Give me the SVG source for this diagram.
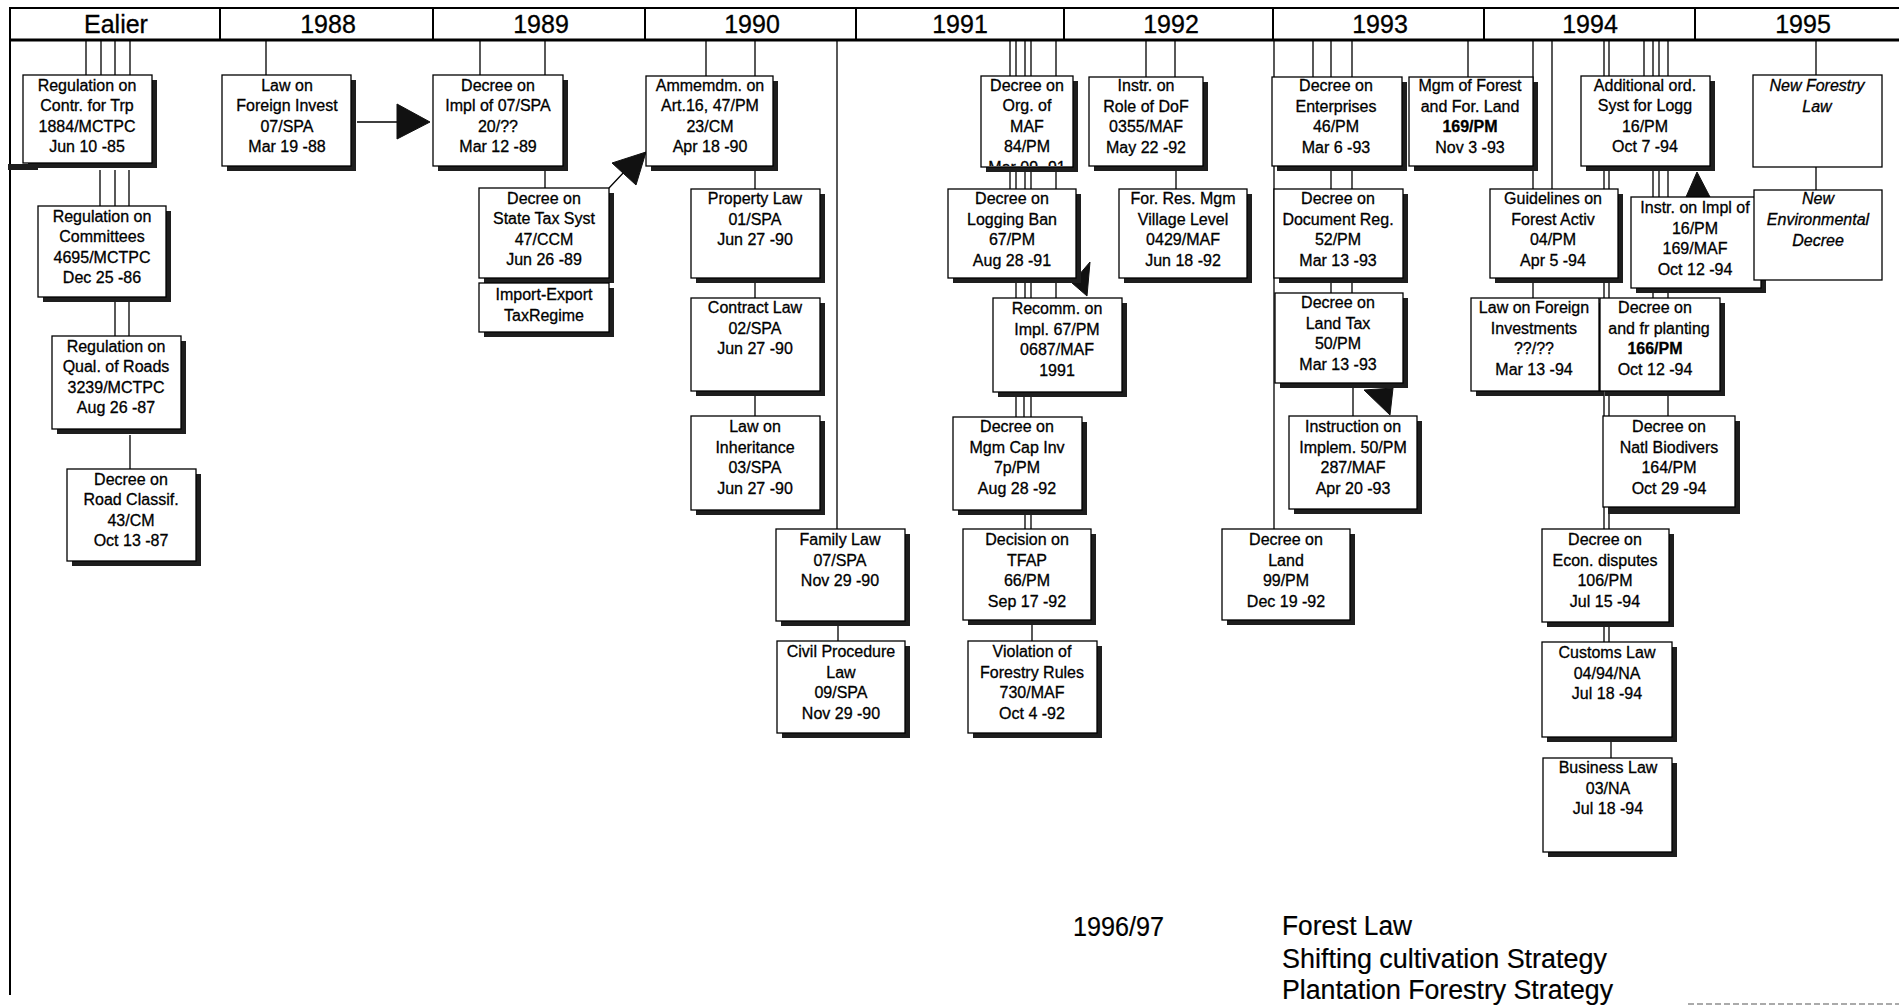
<svg xmlns="http://www.w3.org/2000/svg" width="1899" height="1006" viewBox="0 0 1899 1006">
<defs>
<style>
.bx{fill:#fff;stroke:#000;stroke-width:1.3}
.sh{fill:#1e1e1e}
.t{font-family:"Liberation Sans",Arial,sans-serif;font-size:16px;text-anchor:middle;fill:#000;stroke:#000;stroke-width:0.3}
.it{font-style:italic}
.b{font-weight:bold}
.c{stroke:#000;stroke-width:1.3;fill:none}
.ah{fill:#111;stroke:#111;stroke-width:1}
.hd{font-family:"Liberation Sans",Arial,sans-serif;font-size:25px;text-anchor:middle;fill:#000;stroke:#000;stroke-width:0.3}
.bt{font-family:"Liberation Sans",Arial,sans-serif;font-size:27px;fill:#000;stroke:#000;stroke-width:0.2}
</style>
<clipPath id="clip15"><rect x="982" y="77" width="90" height="89"/></clipPath>
</defs>
<rect width="1899" height="1006" fill="#fff"/>

<g id="header">
<rect x="10" y="8" width="1895" height="32" fill="#fff" stroke="#000" stroke-width="2"/>
<line x1="10" y1="40" x2="1899" y2="40" stroke="#000" stroke-width="3"/>
<g stroke="#000" stroke-width="2">
<line x1="220" y1="8" x2="220" y2="40"/><line x1="433" y1="8" x2="433" y2="40"/><line x1="645" y1="8" x2="645" y2="40"/><line x1="856" y1="8" x2="856" y2="40"/><line x1="1064" y1="8" x2="1064" y2="40"/><line x1="1273" y1="8" x2="1273" y2="40"/><line x1="1484" y1="8" x2="1484" y2="40"/><line x1="1695" y1="8" x2="1695" y2="40"/>
</g>
<text class="hd" x="116" y="33">Ealier</text>
<text class="hd" x="328" y="33">1988</text>
<text class="hd" x="541" y="33">1989</text>
<text class="hd" x="752" y="33">1990</text>
<text class="hd" x="960" y="33">1991</text>
<text class="hd" x="1171" y="33">1992</text>
<text class="hd" x="1380" y="33">1993</text>
<text class="hd" x="1590" y="33">1994</text>
<text class="hd" x="1803" y="33">1995</text>
<line x1="10" y1="40" x2="10" y2="995" stroke="#000" stroke-width="2"/>
<rect x="8" y="164" width="30" height="6" fill="#1e1e1e"/>
</g>

<g id="connectors">
<path class="c" d="M86 40V75M101 40V75M115 40V75M130 40V75M100 170V206M115 170V206M129 170V206M115 302V336M129 302V336M130 435V469"/>
<path class="c" d="M266 40V75M357 122H399"/>
<polygon class="ah" points="397,104 430,122 397,139"/>
<path class="c" d="M480 40V75M545 40V75M545 171V188M609 188L625 171"/>
<polygon class="ah" points="612,163 646,152 636,185"/>
<path class="c" d="M706 40V76M755 40V76M755 171V189M755 283V298M755 396V416M837 40V529M838 626V641"/>
<path class="c" d="M1010 40V76M1016 40V76M1025 40V76M1031 40V76M1056 40V76M1010 172V189M1016 172V189M1025 172V189M1031 172V189M1056 172V189M1016 283V298M1025 283V298M1031 283V298M1056 283V298M1016 397V417M1024 397V417M1031 397V417M1025 515V529M1031 515V529M1032 625V641"/>
<polygon class="ah" points="1072,283 1090,262 1087,296"/>
<path class="c" d="M1146 40V77M1175 40V77M1176 171V189"/>
<path class="c" d="M1274 40V529M1313 40V77M1331 40V77M1352 40V77M1468 40V77M1331 171V189M1352 171V189M1331 283V293M1352 283V293M1353 388V416"/>
<polygon class="ah" points="1364,390 1393,388 1390,415"/>
<path class="c" d="M1533 40V189M1552 40V189M1533 283V298M1604 40V642M1609 40V642M1644 40V76M1653 40V298M1659 40V197M1668 40V416M1611 742V758"/>
<polygon class="ah" points="1697,172 1686,197 1710,197"/>
<path class="c" d="M1816 40V75M1816 167V190"/>
</g>

<g id="n1"><rect class="sh" x="28" y="80" width="129" height="88"/><rect class="bx" x="23" y="75" width="129" height="88"/><text class="t" x="87" y="90.5"><tspan x="87">Regulation on</tspan><tspan x="87" dy="20.6">Contr. for Trp</tspan><tspan x="87" dy="20.6">1884/MCTPC</tspan><tspan x="87" dy="20.6">Jun 10 -85</tspan></text></g>
<g id="n2"><rect class="sh" x="43" y="211" width="128" height="91"/><rect class="bx" x="38" y="206" width="128" height="91"/><text class="t" x="102" y="221.5"><tspan x="102">Regulation on</tspan><tspan x="102" dy="20.6">Committees</tspan><tspan x="102" dy="20.6">4695/MCTPC</tspan><tspan x="102" dy="20.6">Dec 25 -86</tspan></text></g>
<g id="n3"><rect class="sh" x="57" y="341" width="129" height="93"/><rect class="bx" x="52" y="336" width="129" height="93"/><text class="t" x="116" y="351.5"><tspan x="116">Regulation on</tspan><tspan x="116" dy="20.6">Qual. of Roads</tspan><tspan x="116" dy="20.6">3239/MCTPC</tspan><tspan x="116" dy="20.6">Aug 26 -87</tspan></text></g>
<g id="n4"><rect class="sh" x="72" y="474" width="129" height="92"/><rect class="bx" x="67" y="469" width="129" height="92"/><text class="t" x="131" y="484.5"><tspan x="131">Decree on</tspan><tspan x="131" dy="20.6">Road Classif.</tspan><tspan x="131" dy="20.6">43/CM</tspan><tspan x="131" dy="20.6">Oct 13 -87</tspan></text></g>
<g id="n5"><rect class="sh" x="227" y="80" width="129" height="91"/><rect class="bx" x="222" y="75" width="129" height="91"/><text class="t" x="287" y="90.5"><tspan x="287">Law on</tspan><tspan x="287" dy="20.6">Foreign Invest</tspan><tspan x="287" dy="20.6">07/SPA</tspan><tspan x="287" dy="20.6">Mar 19 -88</tspan></text></g>
<g id="n6"><rect class="sh" x="438" y="80" width="130" height="91"/><rect class="bx" x="433" y="75" width="130" height="91"/><text class="t" x="498" y="90.5"><tspan x="498">Decree on</tspan><tspan x="498" dy="20.6">Impl of 07/SPA</tspan><tspan x="498" dy="20.6">20/??</tspan><tspan x="498" dy="20.6">Mar 12 -89</tspan></text></g>
<g id="n7"><rect class="sh" x="484" y="193" width="130" height="90"/><rect class="bx" x="479" y="188" width="130" height="90"/><text class="t" x="544" y="203.5"><tspan x="544">Decree on</tspan><tspan x="544" dy="20.6">State Tax Syst</tspan><tspan x="544" dy="20.6">47/CCM</tspan><tspan x="544" dy="20.6">Jun 26 -89</tspan></text></g>
<g id="n8"><rect class="sh" x="484" y="288" width="130" height="49"/><rect class="bx" x="479" y="283" width="130" height="49"/><text class="t" x="544" y="300"><tspan x="544">Import-Export</tspan><tspan x="544" dy="20.6">TaxRegime</tspan></text></g>
<g id="n9"><rect class="sh" x="651" y="81" width="127" height="90"/><rect class="bx" x="646" y="76" width="127" height="90"/><text class="t" x="710" y="90.5"><tspan x="710">Ammemdm. on</tspan><tspan x="710" dy="20.6">Art.16, 47/PM</tspan><tspan x="710" dy="20.6">23/CM</tspan><tspan x="710" dy="20.6">Apr 18 -90</tspan></text></g>
<g id="n10"><rect class="sh" x="696" y="194" width="129" height="89"/><rect class="bx" x="691" y="189" width="129" height="89"/><text class="t" x="755" y="204"><tspan x="755">Property Law</tspan><tspan x="755" dy="20.6">01/SPA</tspan><tspan x="755" dy="20.6">Jun 27 -90</tspan></text></g>
<g id="n11"><rect class="sh" x="696" y="303" width="129" height="93"/><rect class="bx" x="691" y="298" width="129" height="93"/><text class="t" x="755" y="313"><tspan x="755">Contract Law</tspan><tspan x="755" dy="20.6">02/SPA</tspan><tspan x="755" dy="20.6">Jun 27 -90</tspan></text></g>
<g id="n12"><rect class="sh" x="696" y="421" width="129" height="94"/><rect class="bx" x="691" y="416" width="129" height="94"/><text class="t" x="755" y="432"><tspan x="755">Law on</tspan><tspan x="755" dy="20.6">Inheritance</tspan><tspan x="755" dy="20.6">03/SPA</tspan><tspan x="755" dy="20.6">Jun 27 -90</tspan></text></g>
<g id="n13"><rect class="sh" x="781" y="534" width="129" height="92"/><rect class="bx" x="776" y="529" width="129" height="92"/><text class="t" x="840" y="545"><tspan x="840">Family Law</tspan><tspan x="840" dy="20.6">07/SPA</tspan><tspan x="840" dy="20.6">Nov 29 -90</tspan></text></g>
<g id="n14"><rect class="sh" x="782" y="646" width="128" height="92"/><rect class="bx" x="777" y="641" width="128" height="92"/><text class="t" x="841" y="657"><tspan x="841">Civil Procedure</tspan><tspan x="841" dy="20.6">Law</tspan><tspan x="841" dy="20.6">09/SPA</tspan><tspan x="841" dy="20.6">Nov 29 -90</tspan></text></g>
<g id="n15"><rect class="sh" x="986" y="81" width="92" height="91"/><rect class="bx" x="981" y="76" width="92" height="91"/><text class="t" x="1027" y="90.5" clip-path="url(#clip15)"><tspan x="1027">Decree on</tspan><tspan x="1027" dy="20.6">Org. of</tspan><tspan x="1027" dy="20.6">MAF</tspan><tspan x="1027" dy="20.6">84/PM</tspan><tspan x="1027" dy="20.6">Mar 09 -91</tspan></text></g>
<g id="n16"><rect class="sh" x="953" y="194" width="128" height="89"/><rect class="bx" x="948" y="189" width="128" height="89"/><text class="t" x="1012" y="204"><tspan x="1012">Decree on</tspan><tspan x="1012" dy="20.6">Logging Ban</tspan><tspan x="1012" dy="20.6">67/PM</tspan><tspan x="1012" dy="20.6">Aug 28 -91</tspan></text></g>
<g id="n17"><rect class="sh" x="998" y="303" width="129" height="94"/><rect class="bx" x="993" y="298" width="129" height="94"/><text class="t" x="1057" y="314"><tspan x="1057">Recomm. on</tspan><tspan x="1057" dy="20.6">Impl. 67/PM</tspan><tspan x="1057" dy="20.6">0687/MAF</tspan><tspan x="1057" dy="20.6">1991</tspan></text></g>
<g id="n18"><rect class="sh" x="958" y="422" width="129" height="93"/><rect class="bx" x="953" y="417" width="129" height="93"/><text class="t" x="1017" y="432"><tspan x="1017">Decree on</tspan><tspan x="1017" dy="20.6">Mgm Cap Inv</tspan><tspan x="1017" dy="20.6">7p/PM</tspan><tspan x="1017" dy="20.6">Aug 28 -92</tspan></text></g>
<g id="n19"><rect class="sh" x="968" y="534" width="128" height="91"/><rect class="bx" x="963" y="529" width="128" height="91"/><text class="t" x="1027" y="545"><tspan x="1027">Decision on</tspan><tspan x="1027" dy="20.6">TFAP</tspan><tspan x="1027" dy="20.6">66/PM</tspan><tspan x="1027" dy="20.6">Sep 17 -92</tspan></text></g>
<g id="n20"><rect class="sh" x="973" y="646" width="129" height="92"/><rect class="bx" x="968" y="641" width="129" height="92"/><text class="t" x="1032" y="657"><tspan x="1032">Violation of</tspan><tspan x="1032" dy="20.6">Forestry Rules</tspan><tspan x="1032" dy="20.6">730/MAF</tspan><tspan x="1032" dy="20.6">Oct 4 -92</tspan></text></g>
<g id="n21"><rect class="sh" x="1094" y="82" width="114" height="89"/><rect class="bx" x="1089" y="77" width="114" height="89"/><text class="t" x="1146" y="91"><tspan x="1146">Instr. on</tspan><tspan x="1146" dy="20.6">Role of DoF</tspan><tspan x="1146" dy="20.6">0355/MAF</tspan><tspan x="1146" dy="20.6">May 22 -92</tspan></text></g>
<g id="n22"><rect class="sh" x="1124" y="194" width="128" height="89"/><rect class="bx" x="1119" y="189" width="128" height="89"/><text class="t" x="1183" y="204"><tspan x="1183">For. Res. Mgm</tspan><tspan x="1183" dy="20.6">Village Level</tspan><tspan x="1183" dy="20.6">0429/MAF</tspan><tspan x="1183" dy="20.6">Jun 18 -92</tspan></text></g>
<g id="n23"><rect class="sh" x="1277" y="82" width="130" height="89"/><rect class="bx" x="1272" y="77" width="130" height="89"/><text class="t" x="1336" y="91"><tspan x="1336">Decree on</tspan><tspan x="1336" dy="20.6">Enterprises</tspan><tspan x="1336" dy="20.6">46/PM</tspan><tspan x="1336" dy="20.6">Mar 6 -93</tspan></text></g>
<g id="n24"><rect class="sh" x="1414" y="82" width="124" height="89"/><rect class="bx" x="1409" y="77" width="124" height="89"/><text class="t" x="1470" y="91"><tspan x="1470">Mgm of Forest</tspan><tspan x="1470" dy="20.6">and For. Land</tspan><tspan x="1470" dy="20.6" class="b">169/PM</tspan><tspan x="1470" dy="20.6">Nov 3 -93</tspan></text></g>
<g id="n25"><rect class="sh" x="1279" y="194" width="129" height="89"/><rect class="bx" x="1274" y="189" width="129" height="89"/><text class="t" x="1338" y="204"><tspan x="1338">Decree on</tspan><tspan x="1338" dy="20.6">Document Reg.</tspan><tspan x="1338" dy="20.6">52/PM</tspan><tspan x="1338" dy="20.6">Mar 13 -93</tspan></text></g>
<g id="n26"><rect class="sh" x="1280" y="298" width="128" height="90"/><rect class="bx" x="1275" y="293" width="128" height="90"/><text class="t" x="1338" y="308"><tspan x="1338">Decree on</tspan><tspan x="1338" dy="20.6">Land Tax</tspan><tspan x="1338" dy="20.6">50/PM</tspan><tspan x="1338" dy="20.6">Mar 13 -93</tspan></text></g>
<g id="n27"><rect class="sh" x="1294" y="421" width="128" height="93"/><rect class="bx" x="1289" y="416" width="128" height="93"/><text class="t" x="1353" y="432"><tspan x="1353">Instruction on</tspan><tspan x="1353" dy="20.6">Implem. 50/PM</tspan><tspan x="1353" dy="20.6">287/MAF</tspan><tspan x="1353" dy="20.6">Apr 20 -93</tspan></text></g>
<g id="n28"><rect class="sh" x="1227" y="534" width="128" height="91"/><rect class="bx" x="1222" y="529" width="128" height="91"/><text class="t" x="1286" y="545"><tspan x="1286">Decree on</tspan><tspan x="1286" dy="20.6">Land</tspan><tspan x="1286" dy="20.6">99/PM</tspan><tspan x="1286" dy="20.6">Dec 19 -92</tspan></text></g>
<g id="n29"><rect class="sh" x="1495" y="194" width="128" height="89"/><rect class="bx" x="1490" y="189" width="128" height="89"/><text class="t" x="1553" y="204"><tspan x="1553">Guidelines on</tspan><tspan x="1553" dy="20.6">Forest Activ</tspan><tspan x="1553" dy="20.6">04/PM</tspan><tspan x="1553" dy="20.6">Apr 5 -94</tspan></text></g>
<g id="n30"><rect class="sh" x="1586" y="81" width="129" height="90"/><rect class="bx" x="1581" y="76" width="129" height="90"/><text class="t" x="1645" y="90.5"><tspan x="1645">Additional ord.</tspan><tspan x="1645" dy="20.6">Syst for Logg</tspan><tspan x="1645" dy="20.6">16/PM</tspan><tspan x="1645" dy="20.6">Oct 7 -94</tspan></text></g>
<g id="n31"><rect class="sh" x="1476" y="303" width="128" height="93"/><rect class="bx" x="1471" y="298" width="128" height="93"/><text class="t" x="1534" y="313"><tspan x="1534">Law on Foreign</tspan><tspan x="1534" dy="20.6">Investments</tspan><tspan x="1534" dy="20.6">??/??</tspan><tspan x="1534" dy="20.6">Mar 13 -94</tspan></text></g>
<g id="n32"><rect class="sh" x="1636" y="202" width="130" height="91"/><rect class="bx" x="1631" y="197" width="130" height="91"/><text class="t" x="1695" y="213"><tspan x="1695">Instr. on Impl of</tspan><tspan x="1695" dy="20.6">16/PM</tspan><tspan x="1695" dy="20.6">169/MAF</tspan><tspan x="1695" dy="20.6">Oct 12 -94</tspan></text></g>
<g id="n33"><rect class="sh" x="1605" y="303" width="120" height="93"/><rect class="bx" x="1600" y="298" width="120" height="93"/><text class="t" x="1658" y="313"><tspan x="1655">Decree on</tspan><tspan x="1659" dy="20.6">and fr planting</tspan><tspan x="1655" dy="20.6" class="b">166/PM</tspan><tspan x="1655" dy="20.6">Oct 12 -94</tspan></text></g>
<g id="n34"><rect class="sh" x="1608" y="421" width="132" height="93"/><rect class="bx" x="1603" y="416" width="132" height="91"/><text class="t" x="1669" y="432"><tspan x="1669">Decree on</tspan><tspan x="1669" dy="20.6">Natl Biodivers</tspan><tspan x="1669" dy="20.6">164/PM</tspan><tspan x="1669" dy="20.6">Oct 29 -94</tspan></text></g>
<g id="n35"><rect class="sh" x="1547" y="534" width="127" height="93"/><rect class="bx" x="1542" y="529" width="127" height="93"/><text class="t" x="1605" y="545"><tspan x="1605">Decree on</tspan><tspan x="1605" dy="20.6">Econ. disputes</tspan><tspan x="1605" dy="20.6">106/PM</tspan><tspan x="1605" dy="20.6">Jul 15 -94</tspan></text></g>
<g id="n36"><rect class="sh" x="1547" y="647" width="130" height="95"/><rect class="bx" x="1542" y="642" width="130" height="95"/><text class="t" x="1607" y="658"><tspan x="1607">Customs Law</tspan><tspan x="1607" dy="20.6">04/94/NA</tspan><tspan x="1607" dy="20.6">Jul 18 -94</tspan></text></g>
<g id="n37"><rect class="sh" x="1548" y="763" width="129" height="94"/><rect class="bx" x="1543" y="758" width="129" height="94"/><text class="t" x="1608" y="773"><tspan x="1608">Business Law</tspan><tspan x="1608" dy="20.6">03/NA</tspan><tspan x="1608" dy="20.6">Jul 18 -94</tspan></text></g>
<g id="n38"><rect class="bx" x="1753" y="75" width="129" height="92"/><text class="t it" x="1817" y="90.5"><tspan x="1817">New Forestry</tspan><tspan x="1817" dy="21">Law</tspan></text></g>
<g id="n39"><rect class="bx" x="1754" y="190" width="128" height="90"/><text class="t it" x="1818" y="204"><tspan x="1818">New</tspan><tspan x="1818" dy="21">Environmental</tspan><tspan x="1818" dy="21">Decree</tspan></text></g>

<g id="footer">
<text class="bt" x="1073" y="936" textLength="91" lengthAdjust="spacingAndGlyphs">1996/97</text>
<text class="bt" x="1282" y="935" textLength="130" lengthAdjust="spacingAndGlyphs">Forest Law</text>
<text class="bt" x="1282" y="968" textLength="325" lengthAdjust="spacingAndGlyphs">Shifting cultivation Strategy</text>
<text class="bt" x="1282" y="999" textLength="331" lengthAdjust="spacingAndGlyphs">Plantation Forestry Strategy</text>
<line x1="1688" y1="1004" x2="1899" y2="1004" stroke="#aaa" stroke-width="2" stroke-dasharray="6 3"/>
</g>
</svg>
